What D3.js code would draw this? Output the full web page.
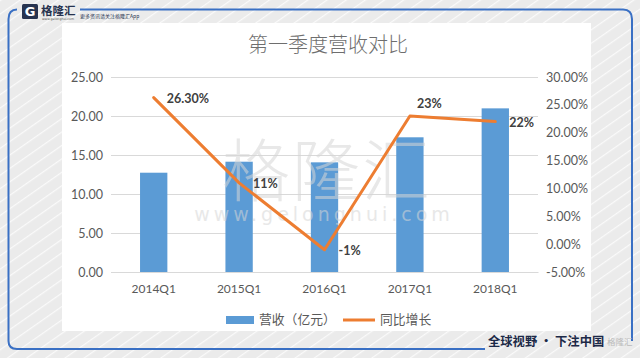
<!DOCTYPE html>
<html><head><meta charset="utf-8">
<script src="https://cdn.jsdelivr.net/npm/d3@7"></script>
<style>
html,body{margin:0;padding:0;background:#fff;}
svg{display:block;}
</style></head>
<body>
<script>
// ---- data ----
const categories = ["2014Q1","2015Q1","2016Q1","2017Q1","2018Q1"];
const revenue = [12.73, 14.14, 14.06, 17.27, 20.98];          // 营收（亿元）
const growth = [0.263, 0.11, -0.01, 0.23, 0.22];               // 同比增长
const growthLabels = ["26.30%","11%","-1%","23%","22%"];
const leftTicks = [0, 5, 10, 15, 20, 25];
const rightTicks = [-0.05, 0, 0.05, 0.10, 0.15, 0.20, 0.25, 0.30];
const title = "第一季度营收对比";
const legendNames = ["营收（亿元）", "同比增长"];

const W = 640, H = 358;
const latin = "Lato, 'Noto Sans CJK SC', sans-serif";
const cjk = "'Noto Sans CJK SC', sans-serif";

const svg = d3.select("body").append("svg").attr("width", W).attr("height", H);
const defs = svg.append("defs");
const pat = defs.append("pattern").attr("id","stripes").attr("patternUnits","userSpaceOnUse")
  .attr("width", 11).attr("height", 11).attr("patternTransform","rotate(-35)");
pat.append("rect").attr("width",11).attr("height",11).attr("fill","#ebebeb");
pat.append("rect").attr("width",11).attr("height",1.2).attr("fill","#fafafa");

// background
svg.append("rect").attr("width",W).attr("height",H).attr("fill","url(#stripes)");
// white panel
svg.append("rect").attr("x",62).attr("y",23).attr("width",529).attr("height",308).attr("fill","#fff");

// blue frame
const frame = d3.path();
frame.moveTo(80, 9.5); frame.lineTo(623, 9.5);
frame.quadraticCurveTo(632, 9.5, 632, 19); frame.lineTo(632, 341);
svg.append("path").attr("d", frame.toString()).attr("fill","none").attr("stroke","#3a70c4").attr("stroke-width",2);
const frame2 = d3.path();
frame2.moveTo(17, 9.5); frame2.quadraticCurveTo(8.5, 9.5, 8.5, 19); frame2.lineTo(8.5, 341);
frame2.quadraticCurveTo(8.5, 349, 17, 349); frame2.lineTo(485, 349);
svg.append("path").attr("d", frame2.toString()).attr("fill","none").attr("stroke","#3a70c4").attr("stroke-width",2);

// logo
const logo = svg.append("g");
logo.append("rect").attr("x",22).attr("y",4).attr("width",16).attr("height",15).attr("rx",1.5).attr("fill","#27334f");
logo.append("text").attr("x",30).attr("y",16).attr("text-anchor","middle").attr("font-family","'DejaVu Sans', sans-serif")
  .attr("font-weight","bold").attr("font-size",13).attr("fill","#fff").text("G");
logo.append("text").attr("x",41).attr("y",14.5).attr("font-family",cjk).attr("font-weight","bold")
  .attr("font-size",11.5).attr("fill","#27334f").text("格隆汇");
logo.append("text").attr("x",42).attr("y",19.5).attr("font-family","'DejaVu Sans', sans-serif")
  .attr("font-size",3.2).attr("fill","#555").text("www.gelonghui.com");
logo.append("text").attr("x",80).attr("y",17.5).attr("font-family",cjk)
  .attr("font-size",5).attr("fill","#27334f").text("更多资讯请关注格隆汇App");

// title
svg.append("text").attr("x",328).attr("y",52).attr("text-anchor","middle").attr("font-family",cjk)
  .attr("font-size",20).attr("font-weight",300).attr("fill","#6e6e6e").text(title);

// scales
const x = d3.scaleBand().domain(categories).range([111, 538]).paddingInner(0.68).paddingOuter(0.34);
const yL = d3.scaleLinear().domain([0, 25]).range([272, 77]);
const yR = d3.scaleLinear().domain([-0.05, 0.30]).range([272, 77]);
const pct = d => d3.format(".2%")(d).replace("\u2212","-");

// gridlines + left axis
const gl = svg.append("g").attr("transform","translate(111,0)")
  .call(d3.axisLeft(yL).tickValues(leftTicks).tickSize(-427).tickPadding(8).tickFormat(d3.format(".2f")));
gl.select(".domain").remove();
gl.selectAll(".tick line").attr("stroke","#d9d9d9").attr("stroke-width",1);
gl.selectAll(".tick text").attr("font-family",latin).attr("font-size",12.5).attr("fill","#595959");

// right axis
const gr = svg.append("g").attr("transform","translate(538,0)")
  .call(d3.axisRight(yR).tickValues(rightTicks).tickSize(0).tickPadding(8).tickFormat(pct));
gr.select(".domain").remove();
gr.selectAll(".tick text").attr("font-family",latin).attr("font-size",12.5).attr("fill","#595959");

// x axis
const gx = svg.append("g").attr("transform","translate(0,272)")
  .call(d3.axisBottom(x).tickSize(0).tickPadding(12));
gx.select(".domain").attr("stroke","#d9d9d9");
gx.selectAll(".tick text").attr("font-family",latin).attr("font-size",12).attr("fill","#595959");

// bars
svg.append("g").selectAll("rect").data(categories).join("rect")
  .attr("x", d => x(d)).attr("width", x.bandwidth())
  .attr("y", (d,i) => yL(revenue[i])).attr("height", (d,i) => yL(0) - yL(revenue[i]))
  .attr("fill","#5b9bd5");

// watermark
const wm = svg.append("g").attr("opacity",0.55);
wm.append("text").attr("x",327).attr("y",196).attr("text-anchor","middle").attr("font-family",cjk)
  .attr("font-weight",300).attr("font-size",68).attr("fill","#d6d6d6").attr("letter-spacing",2).text("格隆汇");
wm.append("text").attr("x",324).attr("y",221).attr("text-anchor","middle").attr("font-family","'DejaVu Sans', sans-serif")
  .attr("font-size",19).attr("fill","#d6d6d6").attr("letter-spacing",4).text("www.gelonghui.com");

// line
const cx = d => x(d) + x.bandwidth()/2;
const line = d3.line().x((d,i) => cx(categories[i])).y(d => yR(d));
svg.append("path").datum(growth).attr("d", line).attr("fill","none")
  .attr("stroke","#ed7d31").attr("stroke-width",3).attr("stroke-linejoin","round").attr("stroke-linecap","round");

// data labels
const labOff = [[13,1],[14,1],[14,1],[7,-12],[14,1]];
svg.append("g").selectAll("text").data(growthLabels).join("text")
  .attr("x", (d,i) => cx(categories[i]) + labOff[i][0])
  .attr("y", (d,i) => yR(growth[i]) + labOff[i][1])
  .attr("dy","0.35em").attr("font-family",latin).attr("font-weight","bold").attr("font-size",12.5)
  .attr("fill","#404040").text(d => d);

// legend
const lg = svg.append("g");
lg.append("rect").attr("x",226).attr("y",316).attr("width",28).attr("height",8).attr("fill","#5b9bd5");
lg.append("text").attr("x",259).attr("y",320).attr("dy","0.35em").attr("font-family",cjk)
  .attr("font-size",12.8).attr("fill","#595959").text(legendNames[0]);
lg.append("line").attr("x1",343).attr("x2",375).attr("y1",320).attr("y2",320)
  .attr("stroke","#ed7d31").attr("stroke-width",3);
lg.append("text").attr("x",380).attr("y",320).attr("dy","0.35em").attr("font-family",cjk)
  .attr("font-size",12.8).attr("fill","#595959").text(legendNames[1]);

// footer
svg.append("text").attr("x",488).attr("y",346).attr("font-family",cjk).attr("font-weight","bold")
  .attr("font-size",12.3).attr("fill","#1c2947").text("全球视野 · 下注中国");
svg.append("text").attr("x",607).attr("y",345).attr("font-family",cjk)
  .attr("font-size",8.5).attr("fill","#bbbbbb").text("格隆汇");
</script>
</body></html>
